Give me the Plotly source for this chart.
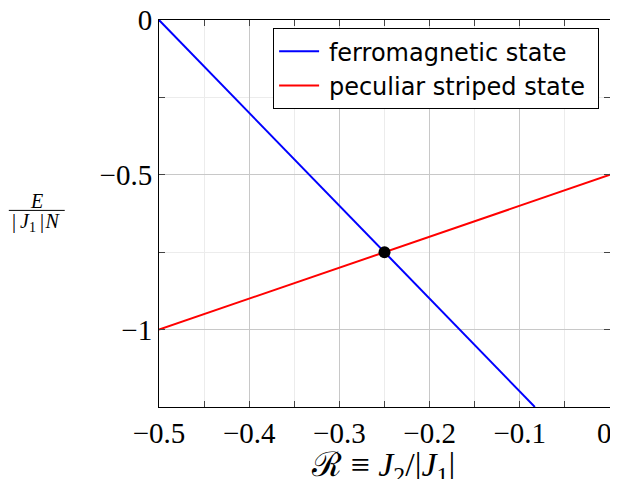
import plotly.graph_objects as go

# Data
R_ferro = [-0.5, -0.0833]
E_ferro = [0.0, -1.25]
R_striped = [-0.5, 0.0]
E_striped = [-1.0, -0.5]
R_cross = [-0.25]
E_cross = [-0.75]
x_tickvals = [-0.5, -0.4, -0.3, -0.2, -0.1, 0]
x_ticktext = ["\u22120.5", "\u22120.4", "\u22120.3", "\u22120.2", "\u22120.1", "0"]
y_tickvals = [0, -0.5, -1]
y_ticktext = ["0", "\u22120.5", "\u22121"]
legend_names = ["ferromagnetic state", "peculiar striped state"]

serif = "Liberation Serif, DejaVu Serif, serif"
sans = "DejaVu Sans, Liberation Sans, sans-serif"

fig = go.Figure()
fig.add_trace(go.Scatter(x=R_ferro, y=E_ferro, mode="lines",
                         name="\u2009" + legend_names[0] + "\u00a0",
                         line=dict(color="#0000ff", width=2)))
fig.add_trace(go.Scatter(x=R_striped, y=E_striped, mode="lines",
                         name="\u2009" + legend_names[1] + "\u00a0",
                         line=dict(color="#ff0000", width=2)))
fig.add_trace(go.Scatter(x=R_cross, y=E_cross, mode="markers", showlegend=False,
                         marker=dict(color="black", size=12)))

axis_common = dict(
    showline=True, linecolor="black", linewidth=1, mirror="ticks",
    ticks="inside", ticklen=6, tickcolor="#444", tickwidth=1,
    showgrid=True, gridcolor="#c8c8c8", gridwidth=1, zeroline=False,
    tickfont=dict(family=serif, size=29, color="black"),
    ticklabeloverflow="allow", automargin=False,
)

# last x tick label drawn as an annotation (so it stays inside the visible window)
x_ticktext_axis = x_ticktext[:-1] + [""]

fig.update_xaxes(range=[-0.5, 0], tickvals=x_tickvals, ticktext=x_ticktext_axis,
                 minor=dict(dtick=0.05, tick0=0, ticks="inside", ticklen=6, tickcolor="#444",
                            showgrid=True, gridcolor="#ececec"),
                 **axis_common)
fig.update_yaxes(range=[-1.25, 0], tickvals=y_tickvals, ticktext=y_ticktext,
                 minor=dict(dtick=0.25, tick0=0, ticks="inside", ticklen=6, tickcolor="#444",
                            showgrid=True, gridcolor="#ececec"),
                 **axis_common)

fig.update_layout(
    width=610, height=471,
    margin=dict(l=151, r=8, t=12, b=72),
    plot_bgcolor="white", paper_bgcolor="white",
    showlegend=True,
    legend=dict(x=0.253, y=0.979, xanchor="left", yanchor="top",
                bgcolor="white", bordercolor="black", borderwidth=1,
                font=dict(family=sans, size=24, color="black"),
                itemwidth=40),
    annotations=[
        dict(text=x_ticktext[-1], xref="x", yref="paper", x=x_tickvals[-1], y=0,
             xanchor="right", yanchor="top", yshift=-8, xshift=4, showarrow=False,
             font=dict(family=serif, size=29, color="black")),
        dict(text="\u211b \u2261 <i>J</i><sub>2</sub>/|<i>J</i><sub>1</sub>|",
             xref="paper", yref="paper", x=0.496, y=-0.155, xanchor="center", yanchor="middle",
             showarrow=False, font=dict(family=serif, size=34, color="black")),
        dict(text="<i>E</i>", xref="paper", yref="paper", x=-0.271, y=0.498,
             xanchor="center", yanchor="bottom", showarrow=False,
             font=dict(family=serif, size=20, color="black")),
        dict(text="|\u2009<i>J</i><sub>1</sub>\u2009|\u200a<i>N</i>", xref="paper", yref="paper",
             x=-0.271, y=0.513, xanchor="center", yanchor="top", showarrow=False,
             font=dict(family=serif, size=20, color="black")),
    ],
    shapes=[dict(type="line", xref="paper", yref="paper", x0=-0.333, x1=-0.209,
                 y0=0.508, y1=0.508, line=dict(color="black", width=1))],
)

fig.write_html("out.html")
